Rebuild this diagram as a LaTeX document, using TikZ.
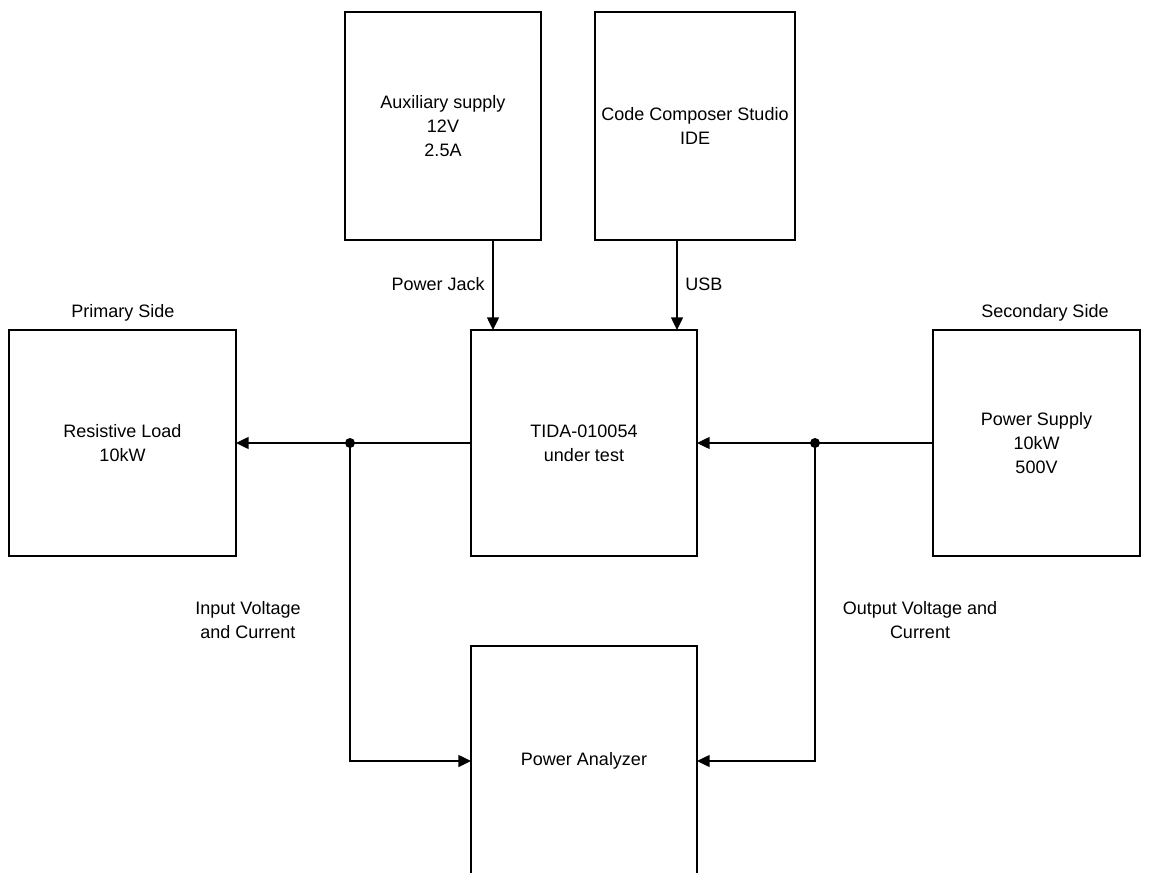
\documentclass[tikz,border=0pt]{standalone}
\usepackage{fontspec}
\setmainfont{Liberation Sans}
\usetikzlibrary{arrows.meta}
\begin{document}
\begin{tikzpicture}[x=0.75pt,y=-0.75pt,
  every node/.style={font=\fontsize{13.5pt}{18pt}\selectfont, align=center, text=black},
  box/.style={draw, line width=2.2pt, inner sep=0pt, outer sep=0pt},
  conn/.style={line width=1.05pt},
  arr/.style={conn, -{Triangle[length=9.5pt,width=9pt]}},
  jdot/.style={circle, fill=black, inner sep=0pt, minimum size=7.5pt},
  lbl/.style={inner sep=0pt}
]
\useasboundingbox (0,0) rectangle (1149,873);
\clip (0,0) rectangle (1149,873);
% boxes
\node[box, minimum width=147pt, minimum height=171pt] (aux) at (443,126) {Auxiliary supply\\12V\\2.5A};
\node[box, minimum width=150pt, minimum height=171pt] (ccs) at (695,126) {Code Composer Studio\\IDE};
\node[box, minimum width=170.25pt, minimum height=169.5pt] (rl) at (122.5,443) {Resistive Load\\10kW};
\node[box, minimum width=169.5pt, minimum height=169.5pt] (tida) at (584,443) {TIDA-010054\\under test};
\node[box, minimum width=155.25pt, minimum height=169.5pt] (ps) at (1036.5,443) {Power Supply\\10kW\\500V};
\node[box, minimum width=169.5pt, minimum height=172.5pt] (pa) at (584,761) {Power Analyzer};
% labels
\node[lbl] (prim) at (123,313) {Primary Side};
\node[lbl] (sec) at (1045,313) {Secondary Side};
\node[lbl, anchor=east] (pj) at (485,284) {Power Jack};
\node[lbl, anchor=west] (usb) at (685,284) {USB};
\node[lbl] (inl) at (248,620) {Input Voltage\\and Current};
\node[lbl] (outl) at (920,620) {Output Voltage and\\Current};
% connectors
\coordinate (pjx) at (493,240);
\coordinate (usbx) at (677,240);
\draw[arr] (pjx) -- (pjx |- tida.north);
\draw[arr] (usbx) -- (usbx |- tida.north);
\draw[arr] (tida.west) -- (rl.east);
\draw[arr] (ps.west) -- (tida.east);
\node[jdot] (j1) at (350,443) {};
\node[jdot] (j2) at (815,443) {};
\draw[arr] (j1.center) |- (pa.west);
\draw[arr] (j2.center) |- (pa.east);
\end{tikzpicture}
\end{document}
